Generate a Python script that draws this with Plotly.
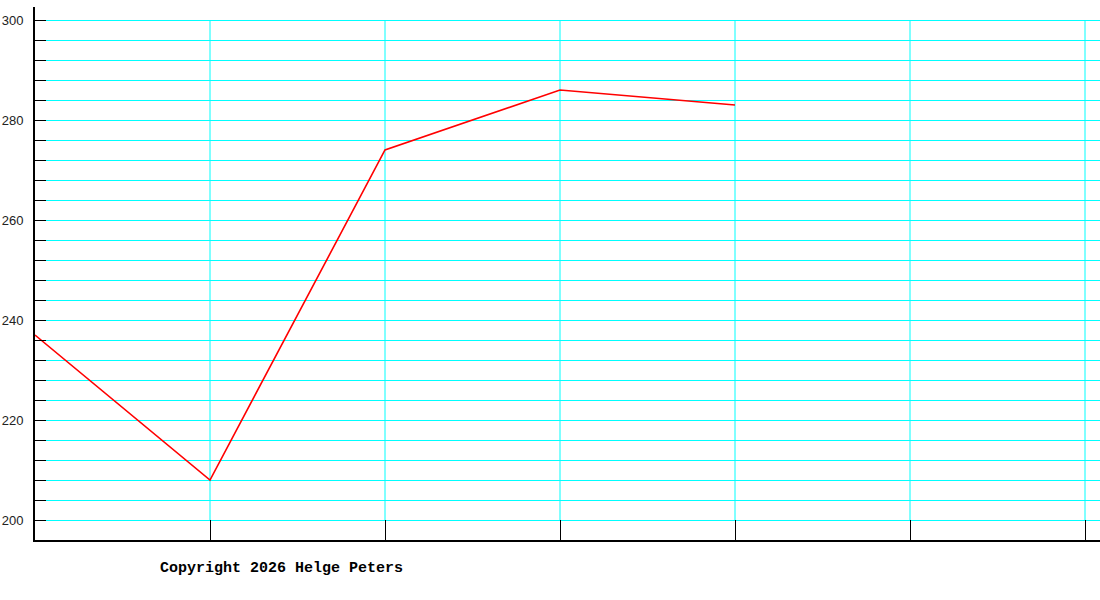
import plotly.graph_objects as go

x_vals = [0, 1, 2, 3, 4]
y_vals = [237, 208, 274, 286, 283]
y_tick_vals = list(range(200, 301, 4))
y_tick_text = [str(v) if v % 20 == 0 else "" for v in y_tick_vals]
x_grid_vals = [1, 2, 3, 4, 5, 6]
copyright_text = "Copyright 2026 Helge Peters"

fig = go.Figure()
fig.add_trace(go.Scatter(x=x_vals, y=y_vals, mode="lines",
                         line=dict(color="#ff0000", width=1.6), hoverinfo="skip"))

for xv in x_grid_vals:
    fig.add_shape(type="line", xref="x", yref="y", x0=xv, x1=xv, y0=200, y1=300,
                  line=dict(color="#00ffff", width=1), layer="below")

fig.update_layout(
    width=1100, height=600,
    margin=dict(l=35, r=0, t=7, b=60),
    paper_bgcolor="white", plot_bgcolor="white",
    showlegend=False,
    font=dict(family="Liberation Sans, Arial, sans-serif", size=13, color="#222"),
    xaxis=dict(range=[0, 1065 / 175], showgrid=False, zeroline=False,
               tickvals=x_grid_vals, ticktext=[""] * len(x_grid_vals),
               ticks="inside", ticklen=20, tickwidth=1, tickcolor="black",
               showline=True, linecolor="black", linewidth=2, fixedrange=True),
    yaxis=dict(range=[196, 302.6], showgrid=True, gridcolor="#00ffff", gridwidth=1,
               zeroline=False, tickvals=y_tick_vals, ticktext=y_tick_text,
               ticks="inside", ticklen=11, tickwidth=1, tickcolor="black",
               showline=True, linecolor="black", linewidth=2,
               ticklabelstandoff=7, fixedrange=True),
)

fig.add_annotation(text=copyright_text, xref="paper", yref="paper",
                   x=(158 - 35) / 1065, y=-28 / 533, xanchor="left", yanchor="middle",
                   showarrow=False,
                   font=dict(family="Liberation Mono, DejaVu Sans Mono, monospace",
                             size=15, color="black", weight="bold"))

fig.write_html("out.html", config={"displayModeBar": False},
               post_script="document.body.style.margin='0';")
